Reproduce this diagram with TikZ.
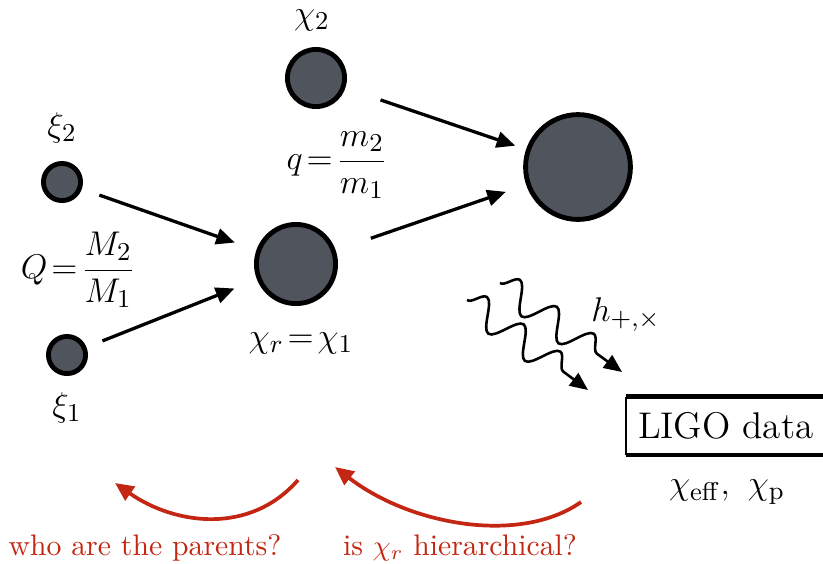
\documentclass[tikz,border=0pt]{standalone}
\usetikzlibrary{arrows.meta,decorations.pathmorphing,shadows}
\definecolor{bhfill}{RGB}{80,85,93}
\definecolor{askred}{RGB}{195,38,18}
\begin{document}
\begin{tikzpicture}[x=0.35pt, y=-0.35pt,
    bh/.style={circle, draw=black, line width=1.7pt, fill=bhfill, drop shadow={shadow xshift=0.7pt, shadow yshift=-0.7pt, opacity=0.3}},
    lab/.style={font=\fontsize{13}{16}\selectfont},
    arr/.style={-{Triangle[length=6.5pt,width=5.6pt]}, line width=1.15pt},
    wave/.style={-{Triangle[length=6.3pt,width=5.4pt]}, line width=0.9pt, decorate, decoration={snake, amplitude=5pt, segment length=16pt, post length=6.5pt}},
    ask/.style={-{Triangle[length=6.5pt,width=5.8pt]}, line width=1.3pt, draw=askred},
    asktxt/.style={text=askred, font=\fontsize{10.4}{12.5}\selectfont}
]
\useasboundingbox (0,0) rectangle (823,563);
% black holes
\node[bh, minimum size=13pt] (xi2) at (62,182) {};
\node[bh, minimum size=13pt] (xi1) at (67,355) {};
\node[bh, minimum size=20pt] (chi2) at (316,78) {};
\node[bh, minimum size=27.7pt] (rem) at (296,264) {};
\node[bh, minimum size=36.7pt] (final) at (578,167) {};
% labels
\node[lab] (xi2lab) at (62,128) {$\xi_2$};
\node[lab] (xi1lab) at (67,408) {$\xi_1$};
\node[lab] (chi2lab) at (312,20) {$\chi_2$};
\node[lab] (remlab) at (301,343) {$\chi_r\!=\!\chi_1$};
\node[lab] (Qlab) at (78,270) {$Q\!=\!\displaystyle\frac{M_2}{M_1}$};
\node[lab] (qlab) at (337,165) {$q\!=\!\displaystyle\frac{m_2}{m_1}$};
% mergers
\draw[arr, shorten <=6.5pt, shorten >=8pt] (xi2) -- (rem);
\draw[arr, shorten <=6pt, shorten >=8.5pt] (xi1) -- (rem);
\draw[arr, shorten <=13pt, shorten >=4pt] (chi2) -- (final);
\draw[arr, shorten <=13pt, shorten >=7.5pt] (rem) -- (final);
% gravitational waves
\coordinate (gwa) at (500,283);
\coordinate (gwb) at (622,372);
\coordinate (gwc) at (467,300);
\coordinate (gwd) at (588,390);
\draw[wave] (gwa) -- (gwb);
\draw[wave] (gwc) -- (gwd);
\node[lab] (hlab) at (626,315) {$h_{+,\times}$};
% detector
\node[lab, anchor=west, minimum height=20pt, inner sep=4pt] (ligo) at (626,426) {LIGO data};
\draw[line width=0.9pt] (ligo.north west) -- (ligo.south west);
\draw[line width=1.7pt] (ligo.north west) -- ++(197,0);
\draw[line width=1.5pt] (ligo.south west) -- ++(197,0);
\node[lab] (obs) at (727,492) {$\chi_{\mathrm{eff}},\ \chi_{\mathrm{p}}$};
% questions
\coordinate (aska) at (298,480);
\coordinate (askb) at (115,483);
\coordinate (askc) at (581,502);
\coordinate (askd) at (335,467);
\draw[ask] (aska) .. controls (250,535) and (175,525) .. (askb);
\draw[ask] (askc) .. controls (520,545) and (410,525) .. (askd);
\node[asktxt] (parents) at (145,548) {who are the parents?};
\node[asktxt] (hier) at (460,548) {is $\chi_r$ hierarchical?};
\end{tikzpicture}
\end{document}
